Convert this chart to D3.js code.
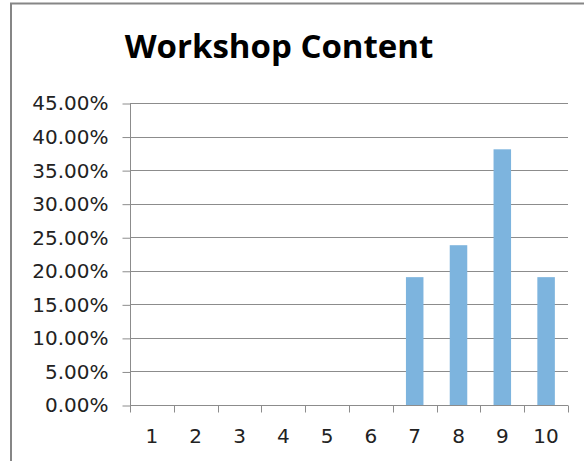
<!DOCTYPE html>
<html>
<head>
<meta charset="utf-8">
<script src="https://cdn.jsdelivr.net/npm/d3@7"></script>
<style>
  html, body { margin: 0; padding: 0; background: #fff; }
  svg { display: block; }
</style>
</head>
<body>
<svg id="chart" width="584" height="461"></svg>
<script>
// Share of responses per rating (1–10)
const categories = ["1", "2", "3", "4", "5", "6", "7", "8", "9", "10"];
const shares = [0, 0, 0, 0, 0, 0, 0.1905, 0.2381, 0.3810, 0.1905];
const yTicks = [0, 0.05, 0.10, 0.15, 0.20, 0.25, 0.30, 0.35, 0.40, 0.45];
const title = "Workshop Content";

const svg = d3.select("#chart");
const W = 584, H = 461;
const plot = { left: 130, right: 568, top: 103, bottom: 405 };

// Chart frame
svg.append("rect")
  .attr("x", 11).attr("y", 3.5)
  .attr("width", W + 10).attr("height", H + 10)
  .attr("fill", "#fff")
  .attr("stroke", "#868686").attr("stroke-width", 2);

// Title
svg.append("text")
  .attr("x", 279).attr("y", 58)
  .attr("text-anchor", "middle")
  .attr("font-family", "'Open Sans', sans-serif")
  .attr("font-weight", 700)
  .attr("font-size", 33)
  .attr("fill", "#000")
  .text(title);

const x = d3.scaleBand().domain(categories)
  .range([plot.left, plot.right]).paddingInner(0).paddingOuter(0);
const y = d3.scaleLinear().domain([0, 0.45]).range([plot.bottom, plot.top]);

// Horizontal gridlines
svg.append("g").selectAll("line").data(yTicks.slice(1)).join("line")
  .attr("x1", plot.left).attr("x2", plot.right)
  .attr("y1", d => Math.round(y(d)) + 0.5).attr("y2", d => Math.round(y(d)) + 0.5)
  .attr("stroke", "#8c8c8c").attr("stroke-width", 1);

// Bars (gap width 150%)
const barW = x.bandwidth() * 0.4;
svg.append("g").selectAll("rect").data(shares.map((v, i) => ({ c: categories[i], v })))
  .join("rect")
  .attr("x", d => x(d.c) + (x.bandwidth() - barW) / 2)
  .attr("width", barW)
  .attr("y", d => y(d.v))
  .attr("height", d => y(0) - y(d.v))
  .attr("fill", "#7db4de");

// Y axis
const yAxis = d3.axisLeft(y).tickValues(yTicks)
  .tickFormat(d3.format(".2%")).tickSize(8).tickPadding(14);
const gy = svg.append("g").attr("transform", `translate(${plot.left + 0.5},0.5)`).call(yAxis);
gy.select(".domain").attr("stroke", "#8c8c8c").attr("d", `M0,${plot.top}V${plot.bottom}`);
gy.selectAll(".tick line").attr("stroke", "#8c8c8c");
gy.selectAll(".tick text")
  .attr("font-family", "'DejaVu Sans', sans-serif")
  .attr("font-size", 20).attr("fill", "#222");

// X axis with ticks at category boundaries
const gx = svg.append("g").attr("transform", `translate(0,${plot.bottom + 0.5})`);
gx.append("line").attr("x1", plot.left).attr("x2", plot.right)
  .attr("stroke", "#8c8c8c");
const bounds = categories.map(c => x(c)).concat([plot.right]);
gx.selectAll("line.tk").data(bounds).join("line").attr("class", "tk")
  .attr("x1", d => Math.round(d) + 0.5).attr("x2", d => Math.round(d) + 0.5)
  .attr("y1", 0).attr("y2", 7)
  .attr("stroke", "#8c8c8c");
gx.selectAll("text").data(categories).join("text")
  .attr("x", d => x(d) + x.bandwidth() / 2)
  .attr("y", 37)
  .attr("text-anchor", "middle")
  .attr("font-family", "'DejaVu Sans', sans-serif")
  .attr("font-size", 20).attr("fill", "#222")
  .text(d => d);
</script>
</body>
</html>
